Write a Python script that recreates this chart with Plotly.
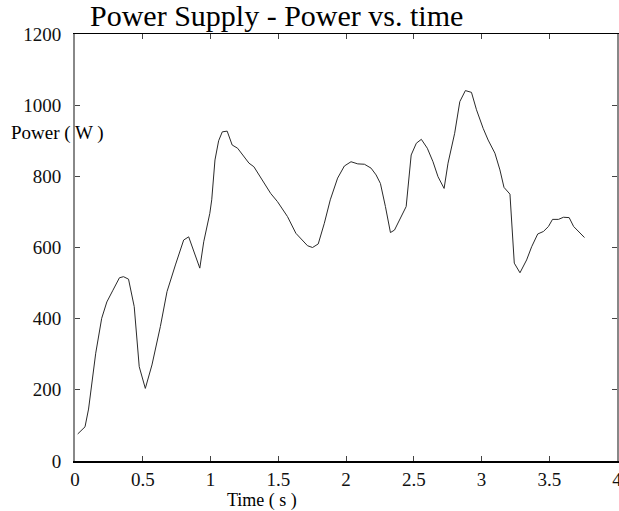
import plotly.graph_objects as go

# Sampled power draw of the supply over time
time_s = [0.02, 0.074, 0.10, 0.13, 0.153, 0.197, 0.235, 0.28, 0.328, 0.358, 0.395,
          0.437, 0.474, 0.519, 0.568, 0.63, 0.679, 0.741, 0.802, 0.839, 0.921,
          0.95, 0.995, 1.009, 1.033, 1.06, 1.087, 1.123, 1.16, 1.2, 1.284, 1.32,
          1.383, 1.444, 1.494, 1.568, 1.63, 1.667, 1.716, 1.753, 1.795, 1.84,
          1.884, 1.938, 1.988, 2.037, 2.087, 2.136, 2.185, 2.222, 2.254, 2.291,
          2.328, 2.358, 2.395, 2.444, 2.481, 2.519, 2.556, 2.6, 2.642, 2.679,
          2.724, 2.753, 2.802, 2.84, 2.881, 2.926, 2.963, 3.012, 3.049, 3.099,
          3.136, 3.166, 3.21, 3.242, 3.284, 3.333, 3.37, 3.415, 3.457, 3.494,
          3.524, 3.568, 3.605, 3.647, 3.68, 3.716, 3.76]
power_w = [76, 96, 146, 228, 303, 401, 447, 480, 515, 518, 511,
           434, 265, 204, 270, 378, 476, 551, 621, 630, 542,
           616, 696, 734, 846, 900, 925, 927, 888, 879, 837, 827,
           790, 752, 729, 687, 640, 624, 605, 600, 610, 668,
           734, 795, 829, 841, 835, 834, 823, 804, 780, 715,
           642, 649, 677, 715, 860, 893, 904, 879, 841, 799,
           766, 837, 921, 1010, 1041, 1036, 987, 935, 902, 865,
           818, 769, 750, 556, 529, 565, 602, 638, 645, 659,
           679, 679, 685, 684, 659, 645, 628]

x_ticks = [0, 0.5, 1, 1.5, 2, 2.5, 3, 3.5, 4]
x_tick_labels = ["0", "0.5", "1", "1.5", "2", "2.5", "3", "3.5", "4"]
y_ticks = [0, 200, 400, 600, 800, 1000, 1200]
y_tick_labels = ["0", "200", "400", "600", "800", "1000", "1200"]

SERIF = "Liberation Serif, Times New Roman, serif"

fig = go.Figure()
fig.add_trace(go.Scatter(x=time_s, y=power_w, mode="lines",
                         line=dict(color="#2a2a2a", width=1),
                         showlegend=False, hoverinfo="x+y"))
# empty trace so the mirrored top/right axes get drawn
fig.add_trace(go.Scatter(x=[], y=[], xaxis="x2", yaxis="y2",
                         showlegend=False, hoverinfo="skip"))

tick_font = dict(family=SERIF, size=19, color="#111")

fig.update_layout(
    width=619, height=511,
    margin=dict(l=75, r=2, t=34, b=50, autoexpand=False),
    paper_bgcolor="white", plot_bgcolor="white",
    xaxis=dict(range=[0, 4], tickvals=x_ticks, ticktext=x_tick_labels,
               ticks="inside", ticklen=5, tickcolor="#444", tickwidth=1,
               showline=True, linecolor="#000", linewidth=2,
               showgrid=False, zeroline=False, tickfont=tick_font,
               ticklabeloverflow="allow", ticklabelstandoff=0,
               automargin=False),
    yaxis=dict(range=[0, 1200], tickvals=y_ticks, ticktext=y_tick_labels,
               ticks="inside", ticklen=5, tickcolor="#444", tickwidth=1,
               showline=True, linecolor="#888", linewidth=2,
               showgrid=False, zeroline=False, tickfont=tick_font,
               ticklabelstandoff=8, automargin=False),
    xaxis2=dict(range=[0, 4], tickvals=x_ticks, overlaying="x", side="top",
                ticks="inside", ticklen=5, tickcolor="#444", tickwidth=1,
                showline=True, linecolor="#000", linewidth=1,
                showticklabels=False, showgrid=False, zeroline=False),
    yaxis2=dict(range=[0, 1200], tickvals=y_ticks, overlaying="y", side="right",
                ticks="inside", ticklen=5, tickcolor="#444", tickwidth=1,
                showline=True, linecolor="#888", linewidth=1.5,
                showticklabels=False, showgrid=False, zeroline=False),
)

annotations = [
    dict(text="Power Supply - Power vs. time", xref="paper", yref="paper",
         x=13 / 542, y=1, xanchor="left", yanchor="bottom", showarrow=False,
         font=dict(family=SERIF, size=30, color="#000")),
    dict(text="Power ( W )", xref="paper", yref="y",
         x=-66 / 542, y=922, xanchor="left", yanchor="middle", showarrow=False,
         font=dict(family=SERIF, size=19, color="#000")),
    dict(text="Time ( s )", xref="x", yref="paper",
         x=1.38, y=-39 / 427, xanchor="center", yanchor="middle", showarrow=False,
         font=dict(family=SERIF, size=18, color="#000")),
]
fig.update_layout(annotations=annotations)

fig.write_html("out.html")
